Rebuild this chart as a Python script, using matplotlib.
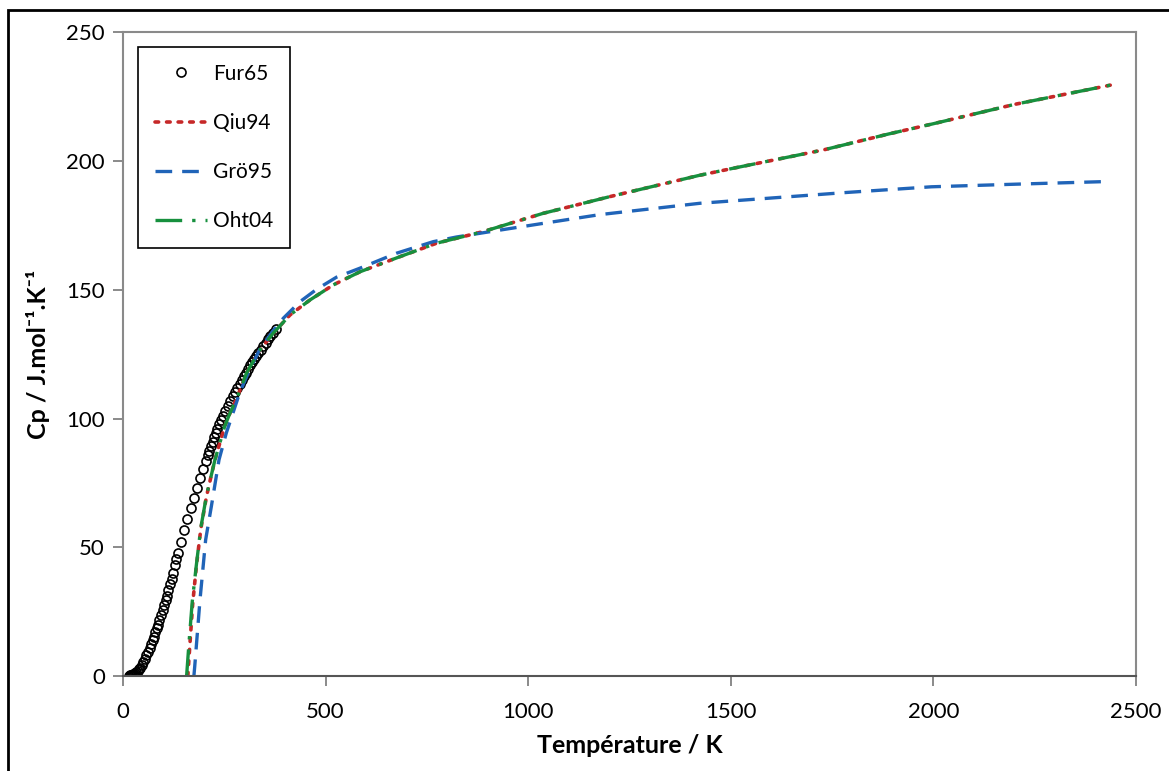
import matplotlib
matplotlib.use("Agg")
import matplotlib.pyplot as plt
from matplotlib.patches import Rectangle

plt.rcParams['font.family'] = ['Lato', 'DejaVu Sans']

# Fur65 experimental points (K, J/mol/K)
fur65_T = [15, 18, 20, 22, 25, 28, 30, 33, 36, 40, 43, 46, 50, 55, 58, 62, 66, 70, 73, 76,
           80, 83, 86, 90, 94, 98, 101, 105, 108, 112, 116, 120, 124, 128, 132, 136, 143, 151,
           158, 167, 175, 183, 191, 198, 204, 209, 213, 217, 221, 225, 229, 233, 237, 242, 246,
           252, 258, 265, 272, 277, 282, 288, 293, 298, 303, 309, 314, 319, 324, 329, 334, 340,
           346, 352, 358, 364, 370, 377]
fur65_cp = [0.1, 0.2, 0.3, 0.4, 0.6, 0.9, 1.1, 1.5, 2.0, 2.7, 3.3, 4.2, 5.3, 6.8, 8.0, 9.5,
            11.0, 12.5, 14.0, 15.3, 17.0, 18.5, 19.8, 21.8, 23.7, 25.8, 27.5, 29.5, 31.2, 33.3,
            35.6, 37.8, 40.2, 43.0, 45.3, 47.8, 52.0, 56.8, 61.0, 65.2, 69.0, 73.0, 76.9, 80.5,
            83.5, 85.8, 87.5, 89.3, 91.0, 92.7, 94.4, 96.0, 97.8, 99.6, 101.0, 103.0, 104.8,
            106.8, 108.6, 110.2, 111.8, 113.5, 115.0, 116.4, 117.8, 119.3, 120.6, 121.9, 123.1,
            124.3, 125.5, 126.8, 128.2, 129.5, 130.8, 132.1, 133.3, 134.6]

qiu94_T = [160, 165, 172, 181, 192, 206, 218, 227, 240, 251, 265, 280, 305, 335, 370, 412,
           461, 519, 585, 684, 774, 889, 1037, 1202, 1421, 1506, 1728, 1889, 2000, 2200, 2450]
qiu94_cp = [0, 12, 28, 42.5, 57, 69.7, 78, 84, 91, 97, 102.5, 107.5, 117.7, 126, 133, 140.2,
            146, 151.9, 157, 162.9, 168.1, 172.6, 179.7, 186.2, 194.4, 197.2, 204.3, 210.5,
            214.5, 222, 229.9]

gro95_T = [175, 177, 190, 204, 218, 237, 255, 288, 309, 337, 370, 396, 437, 478, 527, 585,
           675, 766, 823, 939, 1037, 1177, 1424, 1786, 1995, 2200, 2419]
gro95_cp = [0, 3.6, 29.5, 52.9, 65.8, 84, 94.4, 110, 117.7, 126.7, 134, 139, 145.4, 150.2,
            154.9, 158.4, 164.2, 168.7, 170.5, 173.4, 175.8, 179.2, 183.6, 187.8, 190, 191, 192]

oht04_T = [157, 163, 171, 181, 192, 206, 218, 227, 240, 251, 265, 280, 305, 335, 370, 412,
           461, 519, 585, 684, 774, 889, 1037, 1202, 1421, 1506, 1728, 1889, 2000, 2200, 2450]
oht04_cp = [0, 13, 29, 43, 57.5, 70, 78, 84, 91, 97, 102.5, 107.5, 117.7, 126, 133, 140.2,
            146, 151.9, 157, 162.9, 168.1, 172.6, 179.7, 186.2, 194.4, 197.2, 204.3, 210.5,
            214.5, 222, 229.9]

fig = plt.figure(figsize=(11.69, 7.71), dpi=100)
ax = fig.add_axes([0.1052, 0.1232, 0.8666, 0.8349])

ax.plot(fur65_T, fur65_cp, linestyle='none', marker='o', markersize=6.5,
        markerfacecolor='none', markeredgecolor='black', markeredgewidth=1.2, label='Fur65')
ax.plot(qiu94_T, qiu94_cp, color='#c62828', linestyle=(0, (1, 2.2)), linewidth=2.6,
        dash_capstyle='round', label='Qiu94')
ax.plot(gro95_T, gro95_cp, color='#2064b8', linestyle=(0, (5, 3)), linewidth=2.4,
        label='Grö95')
ax.plot(oht04_T, oht04_cp, color='#17903e', linestyle=(0, (8, 3, 1, 3)), linewidth=2.4,
        label='Oht04')

ax.set_xlim(0, 2500)
ax.set_ylim(0, 250)
ax.set_xticks([0, 500, 1000, 1500, 2000, 2500])
ax.set_yticks([0, 50, 100, 150, 200, 250])
for s in ax.spines.values():
    s.set_color('#8a8a8a')
    s.set_linewidth(1.5)
ax.spines['bottom'].set_color('#555555')
ax.tick_params(axis='both', direction='out', length=7, width=1.2, color='#777777',
               labelsize=16, pad=6)
ax.tick_params(axis='x', pad=12)

ax.set_xlabel('Température / K', fontsize=18, fontweight='bold', labelpad=8)
ax.set_ylabel('Cp / J.mol⁻¹.K⁻¹', fontsize=18, fontweight='bold', labelpad=12)

leg = ax.legend(loc='upper left', bbox_to_anchor=(0.0148, 0.977), fontsize=15,
                frameon=True, fancybox=False, edgecolor='black', framealpha=1,
                borderpad=0.8, labelspacing=1.4, handlelength=2.5, handletextpad=0.3,
                borderaxespad=0)
leg.get_frame().set_linewidth(1.2)

# outer frame of the picture
fig.add_artist(Rectangle((0.007, -0.2), 1.2, 1.187, transform=fig.transFigure,
                         fill=False, edgecolor='black', linewidth=2, clip_on=False))

fig.savefig('out.png', dpi=100)
